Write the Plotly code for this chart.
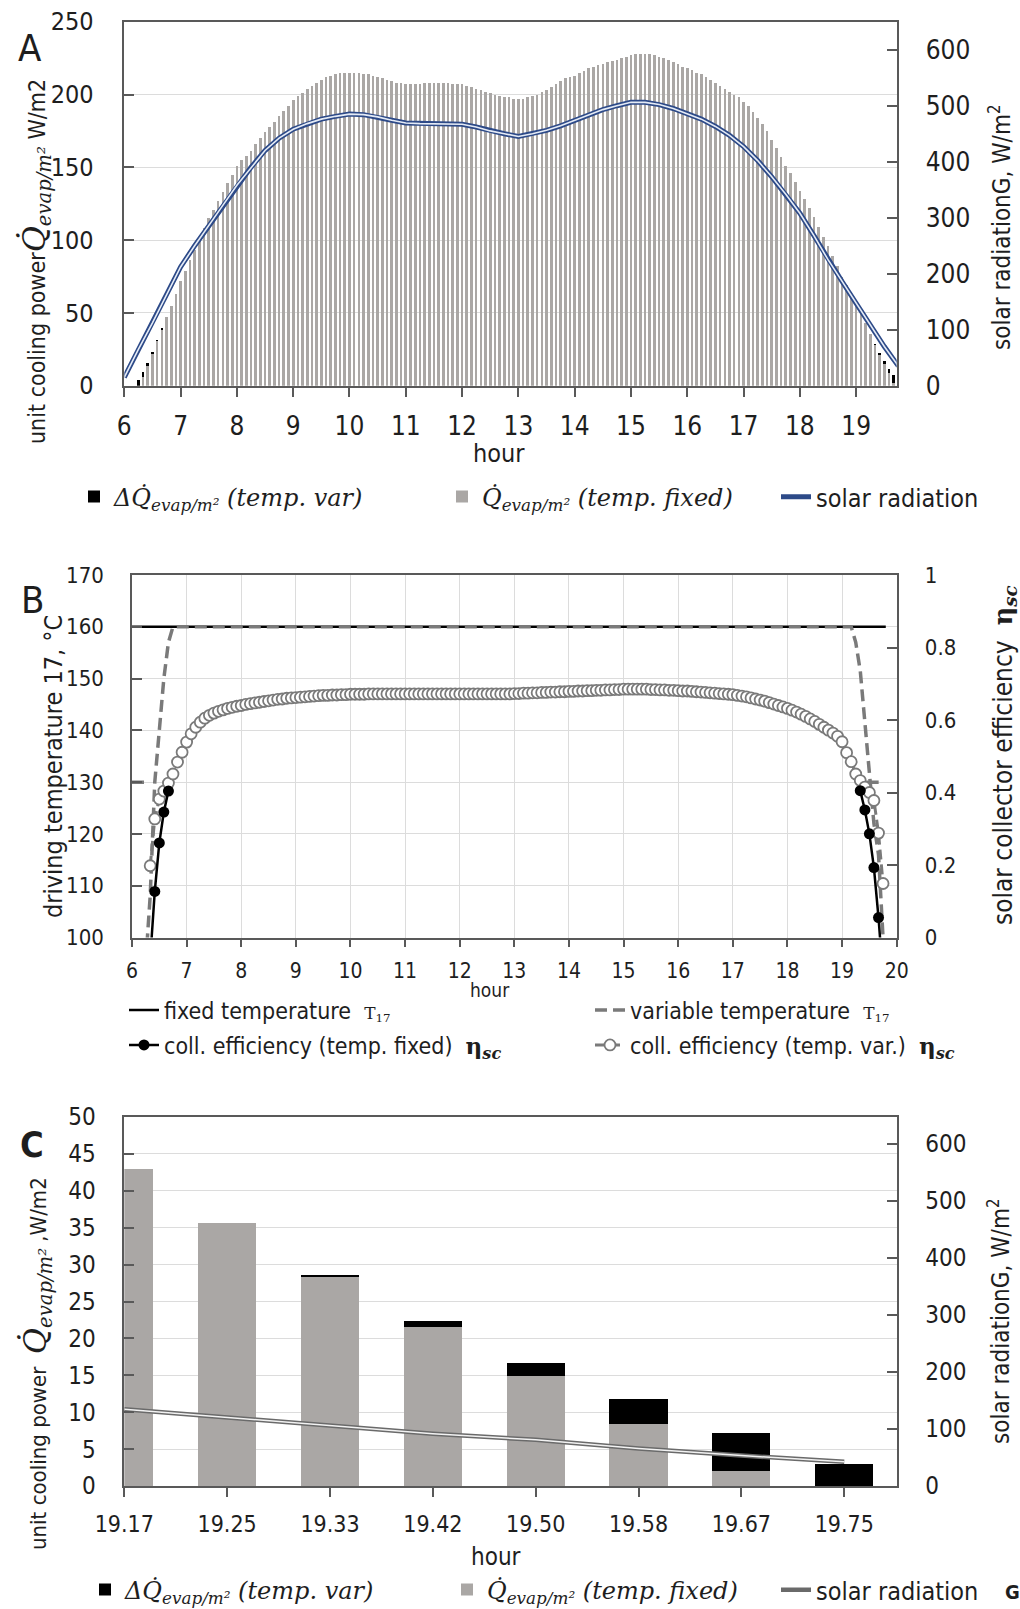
import plotly.graph_objects as go

W, H = 1020, 1609
SANS = "Liberation Sans Narrow, DejaVu Sans Condensed, Roboto Condensed, Roboto, sans-serif"
SERIF = "DejaVu Serif, Liberation Serif, serif"
AXC = "#595959"
TXT = "#1e1e1e"
GRID = "#dcdcdc"
BAR_GRAY = "#aaa7a5"
BLUE = "#2d4a88"
DGRAY = "#7a7a7a"

# ---------------- data: panel A ----------------
hours_5min = [
    6.0, 6.083, 6.167, 6.25, 6.333, 6.417, 6.5, 6.583, 6.667, 6.75, 6.833, 6.917,
    7.0, 7.083, 7.167, 7.25, 7.333, 7.417, 7.5, 7.583, 7.667, 7.75, 7.833, 7.917,
    8.0, 8.083, 8.167, 8.25, 8.333, 8.417, 8.5, 8.583, 8.667, 8.75, 8.833, 8.917,
    9.0, 9.083, 9.167, 9.25, 9.333, 9.417, 9.5, 9.583, 9.667, 9.75, 9.833, 9.917,
    10.0, 10.083, 10.167, 10.25, 10.333, 10.417, 10.5, 10.583, 10.667, 10.75, 10.833, 10.917,
    11.0, 11.083, 11.167, 11.25, 11.333, 11.417, 11.5, 11.583, 11.667, 11.75, 11.833, 11.917,
    12.0, 12.083, 12.167, 12.25, 12.333, 12.417, 12.5, 12.583, 12.667, 12.75, 12.833, 12.917,
    13.0, 13.083, 13.167, 13.25, 13.333, 13.417, 13.5, 13.583, 13.667, 13.75, 13.833, 13.917,
    14.0, 14.083, 14.167, 14.25, 14.333, 14.417, 14.5, 14.583, 14.667, 14.75, 14.833, 14.917,
    15.0, 15.083, 15.167, 15.25, 15.333, 15.417, 15.5, 15.583, 15.667, 15.75, 15.833, 15.917,
    16.0, 16.083, 16.167, 16.25, 16.333, 16.417, 16.5, 16.583, 16.667, 16.75, 16.833, 16.917,
    17.0, 17.083, 17.167, 17.25, 17.333, 17.417, 17.5, 17.583, 17.667, 17.75, 17.833, 17.917,
    18.0, 18.083, 18.167, 18.25, 18.333, 18.417, 18.5, 18.583, 18.667, 18.75, 18.833, 18.917,
    19.0, 19.083, 19.167, 19.25, 19.333, 19.417, 19.5, 19.583, 19.667, 19.75,
]

q_fixed = [
    0, 0, 0, 0, 5.8, 13.5, 22, 31, 39, 47, 55, 63,
    72, 79, 86, 93, 101, 108, 115, 121, 127, 133, 139, 145,
    151, 155, 158, 161, 166, 170, 174, 178, 181, 185, 189, 192,
    196, 199, 201, 204, 206, 208, 210, 212, 213, 214, 215, 215,
    215, 215, 215, 214, 214, 213, 212, 211, 210, 209, 208, 208,
    207, 207, 207, 207, 208, 208, 208, 208, 208, 208, 207, 207,
    207, 206, 205, 204, 203, 202, 201, 200, 199, 198, 198, 197,
    197, 197, 198, 199, 200, 202, 203, 205, 207, 209, 211, 212,
    213, 215, 216, 218, 219, 220, 221, 222, 223, 224, 225, 226,
    227, 228, 228, 228, 228, 227, 226, 225, 224, 222, 221, 219,
    218, 217, 215, 214, 212, 210, 208, 206, 204, 202, 200, 198,
    195, 192, 188, 184, 180, 175, 169, 163, 157, 151, 146, 140,
    134, 128, 122, 116, 109, 102, 96, 89, 82, 75, 69, 62,
    56, 50, 43, 35.6, 28.4, 21.5, 14.9, 8.4, 2.0, 0,
]

dq_var = [
    0, 0, 0, 3.9, 3.8, 2.3, 1.2, 0.5, 0.2, 0, 0, 0,
    0, 0, 0, 0, 0, 0, 0, 0, 0, 0, 0, 0,
    0, 0, 0, 0, 0, 0, 0, 0, 0, 0, 0, 0,
    0, 0, 0, 0, 0, 0, 0, 0, 0, 0, 0, 0,
    0, 0, 0, 0, 0, 0, 0, 0, 0, 0, 0, 0,
    0, 0, 0, 0, 0, 0, 0, 0, 0, 0, 0, 0,
    0, 0, 0, 0, 0, 0, 0, 0, 0, 0, 0, 0,
    0, 0, 0, 0, 0, 0, 0, 0, 0, 0, 0, 0,
    0, 0, 0, 0, 0, 0, 0, 0, 0, 0, 0, 0,
    0, 0, 0, 0, 0, 0, 0, 0, 0, 0, 0, 0,
    0, 0, 0, 0, 0, 0, 0, 0, 0, 0, 0, 0,
    0, 0, 0, 0, 0, 0, 0, 0, 0, 0, 0, 0,
    0, 0, 0, 0, 0, 0, 0, 0, 0, 0, 0, 0,
    0, 0, 0, 0, 0.25, 0.9, 1.75, 3.4, 5.2, 2.95,
]

rad_hours = [
    6.0, 6.25, 6.5, 6.75, 7.0, 7.25, 7.5, 7.75, 8.0, 8.25, 8.5, 8.75,
    9.0, 9.25, 9.5, 9.75, 10.0, 10.25, 10.5, 10.75, 11.0, 11.25, 11.5, 11.75,
    12.0, 12.25, 12.5, 12.75, 13.0, 13.25, 13.5, 13.75, 14.0, 14.25, 14.5, 14.75,
    15.0, 15.25, 15.5, 15.75, 16.0, 16.25, 16.5, 16.75, 17.0, 17.25, 17.5, 17.75,
    18.0, 18.25, 18.5, 18.75, 19.0, 19.25, 19.5, 19.75,
]
rad_values = [
    15, 65, 112, 162, 212, 250, 285, 322, 358, 390, 420, 442,
    458, 468, 476, 481, 485, 484, 480, 474, 469, 468, 468, 468,
    467, 462, 455, 450, 445, 450, 456, 464, 474, 484, 493, 500,
    506, 506, 502, 495, 486, 476, 463, 447, 427, 402, 373, 342,
    308, 268, 225, 186, 147, 108, 70, 35,
]
a_tick_hours = [6, 7, 8, 9, 10, 11, 12, 13, 14, 15, 16, 17, 18, 19]

# ---------------- data: panel B ----------------
fixed_temp_hours = [6.0, 19.8]
fixed_temp = [160, 160]

var_temp_hours = [6.0, 6.25, None, 6.25, 6.333, 6.417, 6.5, 6.583, 6.667, 6.75,
                  19.167, 19.25, 19.333, 19.417, 19.5, 19.583, 19.667, 19.75, None, 19.45, 19.73]
var_temp = [130, 130, None, 95, 108, 130, 140, 150, 157, 160,
            160, 157, 151.5, 141.5, 131.6, 122, 116, 100, None, 130, 130]

eff_var_hours = hours_5min[4:]
eff_var = [
    0.198, 0.327, 0.382, 0.404, 0.426, 0.451, 0.484, 0.511,
    0.539, 0.562, 0.580, 0.594, 0.605, 0.613, 0.619, 0.624, 0.628, 0.632, 0.635, 0.638,
    0.640, 0.643, 0.645, 0.647, 0.649, 0.651, 0.653, 0.655, 0.657, 0.658, 0.660, 0.661,
    0.662, 0.663, 0.664, 0.665, 0.666, 0.667, 0.668, 0.668, 0.669, 0.669, 0.670, 0.670,
    0.671, 0.671, 0.671, 0.671, 0.672, 0.672, 0.672, 0.672, 0.672, 0.672, 0.672, 0.672,
    0.672, 0.672, 0.672, 0.672, 0.672, 0.672, 0.672, 0.672, 0.672, 0.672, 0.672, 0.672,
    0.672, 0.672, 0.672, 0.672, 0.672, 0.672, 0.672, 0.672, 0.672, 0.672, 0.672, 0.672,
    0.673, 0.673, 0.674, 0.674, 0.675, 0.675, 0.676, 0.676, 0.677, 0.677, 0.678, 0.678,
    0.679, 0.679, 0.680, 0.680, 0.681, 0.681, 0.682, 0.682, 0.683, 0.683, 0.684, 0.684,
    0.685, 0.685, 0.685, 0.685, 0.685, 0.685, 0.684, 0.684, 0.683, 0.683, 0.682, 0.682,
    0.681, 0.680, 0.680, 0.679, 0.678, 0.677, 0.676, 0.675, 0.674, 0.673, 0.672, 0.671,
    0.670, 0.668, 0.666, 0.664, 0.661, 0.658, 0.655, 0.652, 0.648, 0.644, 0.640, 0.636,
    0.632, 0.627, 0.622, 0.616, 0.610, 0.603, 0.596, 0.588, 0.580, 0.572, 0.564, 0.555,
    0.540, 0.510, 0.485, 0.451, 0.433, 0.415, 0.400, 0.378, 0.288, 0.149,
]

eff_fixed_hours = [6.333, 6.417, 6.5, 6.583, 6.667, None,
                   19.333, 19.417, 19.5, 19.583, 19.667, 19.75]
eff_fixed = [-0.06, 0.127, 0.261, 0.346, 0.404, None,
             0.405, 0.352, 0.286, 0.193, 0.055, -0.11]

# ---------------- data: panel C ----------------
c_hours = ["19.17", "19.25", "19.33", "19.42", "19.50", "19.58", "19.67", "19.75"]
c_fixed = [42.9, 35.6, 28.4, 21.5, 14.9, 8.4, 2.0, 0]
c_delta = [0, 0, 0.25, 0.9, 1.75, 3.4, 5.2, 2.95]
c_rad = [134.5, 119.8, 105.7, 91.6, 81, 65.8, 53.5, 42.4]


def px(x):
    return x / W


def py(y):
    return 1 - y / H


Q = "Q\u0307"
DQ_LABEL = f"<i>Δ{Q}<sub>evap/m²</sub> (temp. var)</i>"
Q_LABEL = f"<i>{Q}<sub>evap/m²</sub> (temp. fixed)</i>"
SOLAR_LABEL = '<span style="font-family:Liberation Sans Narrow, DejaVu Sans Condensed, Roboto">solar radiation</span>'

fig = go.Figure()

# ---- Panel A ----
fig.add_trace(go.Bar(x=hours_5min, y=q_fixed, width=0.047, name=Q_LABEL,
                     marker=dict(color=BAR_GRAY, line=dict(width=0)),
                     xaxis="x", yaxis="y", legend="legend2"))
fig.add_trace(go.Bar(x=hours_5min, y=dq_var, width=0.047, name=DQ_LABEL,
                     marker=dict(color="black", line=dict(width=0)),
                     xaxis="x", yaxis="y", legend="legend"))
fig.add_trace(go.Scatter(x=rad_hours, y=rad_values, mode="lines", name=SOLAR_LABEL,
                         line=dict(color=BLUE, width=5), xaxis="x", yaxis="y2", legend="legend3"))
fig.add_trace(go.Scatter(x=rad_hours, y=rad_values, mode="lines", showlegend=False,
                         line=dict(color="#e4ebf6", width=1.6), xaxis="x", yaxis="y2", hoverinfo="skip"))

# ---- Panel B ----
T17 = '<span style="font-family:DejaVu Serif; font-size:17px">T<sub>17</sub></span>'
ETA = '<span style="font-family:DejaVu Serif"><b>η</b><sub><b><i>sc</i></b></sub></span>'
fig.add_trace(go.Scatter(x=fixed_temp_hours, y=fixed_temp, mode="lines",
                         name=f"fixed temperature  {T17}",
                         line=dict(color="black", width=2.5), xaxis="x2", yaxis="y3", legend="legend4"))
fig.add_trace(go.Scatter(x=var_temp_hours, y=var_temp, mode="lines", connectgaps=False,
                         name=f"variable temperature  {T17}",
                         line=dict(color=DGRAY, width=3.5, dash="12px,6px"),
                         xaxis="x2", yaxis="y3", legend="legend5"))
fig.add_trace(go.Scatter(x=eff_var_hours, y=eff_var, mode="lines+markers",
                         name=f"coll. efficiency (temp. var.)  {ETA}",
                         line=dict(color=DGRAY, width=3, dash="10px,5px"),
                         marker=dict(symbol="circle", size=11, color="white",
                                     line=dict(color=DGRAY, width=1.8)),
                         xaxis="x2", yaxis="y4", legend="legend7"))
fig.add_trace(go.Scatter(x=eff_fixed_hours, y=eff_fixed, mode="lines+markers", connectgaps=False,
                         name=f"coll. efficiency (temp. fixed)  {ETA}",
                         line=dict(color="black", width=2.5),
                         marker=dict(symbol="circle", size=11, color="black"),
                         xaxis="x2", yaxis="y4", legend="legend6"))

# ---- Panel C ----
fig.add_trace(go.Bar(x=c_hours, y=c_fixed, width=0.565, name=Q_LABEL,
                     marker=dict(color=BAR_GRAY, line=dict(width=0)),
                     xaxis="x3", yaxis="y5", legend="legend9"))
fig.add_trace(go.Bar(x=c_hours, y=c_delta, width=0.565, name=DQ_LABEL,
                     marker=dict(color="black", line=dict(width=0)),
                     xaxis="x3", yaxis="y5", legend="legend8"))
fig.add_trace(go.Scatter(x=c_hours, y=c_rad, mode="lines", name=SOLAR_LABEL,
                         line=dict(color="#6a6a6a", width=4.5), xaxis="x3", yaxis="y6", legend="legend10"))
fig.add_trace(go.Scatter(x=c_hours, y=c_rad, mode="lines", showlegend=False,
                         line=dict(color="#f2f2f2", width=1.5), xaxis="x3", yaxis="y6", hoverinfo="skip"))


def xax(domain, anchor, rng, size, tickvals=None, dtick=None, grid=False, ticklen=10, standoff=4):
    d = dict(domain=domain, anchor=anchor, range=rng, ticks="outside", ticklen=ticklen,
             tickwidth=1.5, tickcolor=AXC, showline=True, linecolor=AXC, linewidth=1.5,
             mirror=True, showgrid=grid, gridcolor=GRID, zeroline=False,
             tickfont=dict(family=SANS, size=size, color=TXT), ticklabelstandoff=standoff)
    if tickvals is not None:
        d.update(tickmode="array", tickvals=tickvals)
    if dtick is not None:
        d.update(dtick=dtick)
    return d


def yax(domain, anchor, rng, size, dtick=None, tickvals=None, grid=True, side="left",
        overlaying=None, standoff=22):
    d = dict(anchor=anchor, range=rng, ticks="inside", ticklen=10, tickwidth=1.5,
             tickcolor=AXC, showline=True, linecolor=AXC, linewidth=1.5, side=side,
             showgrid=grid, gridcolor=GRID, gridwidth=1.2, zeroline=False,
             tickfont=dict(family=SANS, size=size, color=TXT), ticklabelstandoff=standoff)
    if domain is not None:
        d["domain"] = domain
    if overlaying:
        d["overlaying"] = overlaying
    if dtick is not None:
        d["dtick"] = dtick
    if tickvals is not None:
        d.update(tickmode="array", tickvals=tickvals)
    return d


A_X = [px(124.3), px(896.7)]
A_Y = [py(385.7), py(21.7)]
B_X = [px(132), px(896.7)]
B_Y = [py(937.5), py(575)]
C_X = [px(124.3), px(896.7)]
C_Y = [py(1486), py(1117)]


def leg(xtext, ycenter, size=24, family=SERIF):
    return dict(x=px(xtext - 42), y=py(ycenter), xanchor="left", yanchor="middle",
                orientation="h", bgcolor="rgba(0,0,0,0)", borderwidth=0,
                font=dict(family=family, size=size, color=TXT))


fig.update_layout(
    width=W, height=H, margin=dict(l=0, r=0, t=0, b=0, autoexpand=False),
    paper_bgcolor="white", plot_bgcolor="white", barmode="stack",
    xaxis=xax(A_X, "y", [6, 19.72], 26, tickvals=a_tick_hours, standoff=6),
    yaxis=yax(A_Y, "x", [0, 250], 25, dtick=50, standoff=24),
    yaxis2=yax(None, "x", [0, 650], 26, tickvals=[0, 100, 200, 300, 400, 500, 600],
               grid=False, side="right", overlaying="y"),
    xaxis2=xax(B_X, "y3", [6, 20], 21, dtick=1, grid=True, ticklen=8, standoff=6),
    yaxis3=yax(B_Y, "x2", [100, 170], 22, dtick=10),
    yaxis4=yax(None, "x2", [0, 1], 22, dtick=0.2, grid=False, side="right", overlaying="y3"),
    xaxis3=xax(C_X, "y5", [0, 7.51], 23, ticklen=9, standoff=8),
    yaxis5=yax(C_Y, "x3", [0, 50], 24, dtick=5),
    yaxis6=yax(None, "x3", [0, 647], 24, tickvals=[0, 100, 200, 300, 400, 500, 600],
               grid=False, side="right", overlaying="y5"),
    legend=leg(116, 497),
    legend2=leg(484, 497),
    legend3=leg(818, 497, size=25, family=SANS),
    legend4=leg(166, 1010, size=23, family=SANS),
    legend5=leg(632, 1010, size=23, family=SANS),
    legend6=leg(166, 1045, size=23, family=SANS),
    legend7=leg(632, 1045, size=23, family=SANS),
    legend8=leg(127, 1590),
    legend9=leg(489, 1590),
    legend10=leg(818, 1590, size=25, family=SANS),
)
fig.layout.xaxis3.type = "category"

QT = f'<span style="font-family:DejaVu Serif; font-size:32px"><i>{Q}</i></span>' \
     f'<span style="font-family:DejaVu Serif; font-size:28px"><sub><i>evap/m²</i></sub></span>'

ann = [
    dict(x=px(30), y=py(48), text="A", size=38),
    dict(x=px(32), y=py(600), text="B", size=38),
    dict(x=px(32), y=py(1144), text="<b>C</b>", size=36),
    dict(x=px(35), y=py(262), text=f"unit cooling power{QT} W/m2", size=23, angle=-90),
    dict(x=px(1000), y=py(227), text="solar radiationG, W/m<sup>2</sup>", size=24, angle=-90),
    dict(x=px(499), y=py(453), text="hour", size=25),
    dict(x=px(53), y=py(767), text="driving temperature 17, °C", size=25, angle=-90),
    dict(x=px(1004), y=py(755), text=f"solar collector efficiency  {ETA}", size=26, angle=-90),
    dict(x=px(490), y=py(990), text="hour", size=19),
    dict(x=px(36), y=py(1364), text=f"unit cooling power  {QT} ,W/m2", size=22, angle=-90),
    dict(x=px(999), y=py(1321), text="solar radiationG, W/m<sup>2</sup>", size=24, angle=-90),
    dict(x=px(496), y=py(1557), text="hour", size=24),
    dict(x=px(1012), y=py(1592), text="<b>G</b>", size=20),
]
for a in ann:
    fig.add_annotation(x=a["x"], y=a["y"], xref="paper", yref="paper", text=a["text"],
                       showarrow=False, textangle=a.get("angle", 0), xanchor="center",
                       yanchor="middle", font=dict(family=SANS, size=a["size"], color=TXT))

fig.write_html("out.html", config={"displayModeBar": False},
               post_script="document.body.style.margin='0';document.body.style.overflow='hidden';")
